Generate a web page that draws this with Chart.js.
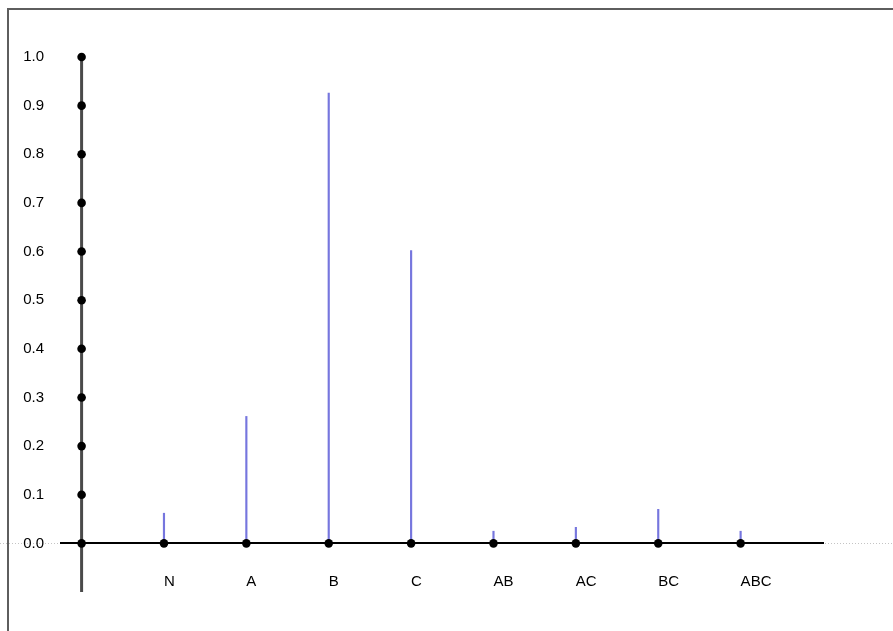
<!DOCTYPE html>
<html><head><meta charset="utf-8">
<script src="https://cdn.jsdelivr.net/npm/chart.js@4"></script>
<style>
html,body{margin:0;padding:0;background:#fff;}
#wrap{position:relative;width:893px;height:631px;overflow:hidden;}
#frame{position:absolute;left:7px;top:8px;width:900px;height:640px;border-left:2px solid #5e5e5e;border-top:2px solid #5e5e5e;pointer-events:none;}
canvas{position:absolute;left:0;top:0;}
</style>
</head><body>
<div id="wrap"><canvas id="c" width="893" height="631"></canvas><div id="frame"></div></div>
<script>
// ---- data ----
const categories = ['N', 'A', 'B', 'C', 'AB', 'AC', 'BC', 'ABC'];
const categoryPositions = [1, 2, 3, 4, 5, 6, 7, 8];
const values = [0.062, 0.261, 0.926, 0.602, 0.025, 0.033, 0.070, 0.025];
const yTickValues = [0.0, 0.1, 0.2, 0.3, 0.4, 0.5, 0.6, 0.7, 0.8, 0.9, 1.0];
const yAxisExtent = [-0.1, 1.0];
const xRange = [-0.25, 9];

const stemData = categoryPositions.map((x, i) => ({x: x, y: values[i]}));
const baseDots = categoryPositions.map(x => ({x: x, y: 0}));
const axisDots = yTickValues.map(v => ({x: 0, y: v}));
const axisLine = yAxisExtent.map(v => ({x: 0, y: v}));

const baselinePlugin = {
  id: 'baseline',
  beforeDraw(chart) {
    const y = Math.round(chart.scales.y.getPixelForValue(0)) + 0.5;
    const ctx = chart.ctx;
    ctx.save();
    ctx.strokeStyle = '#c4c4c4';
    ctx.lineWidth = 1;
    ctx.setLineDash([1, 2]);
    ctx.beginPath();
    ctx.moveTo(0, y);
    ctx.lineTo(chart.width, y);
    ctx.stroke();
    ctx.restore();
  }
};

const font = {family: "'Liberation Sans', Arial, Helvetica, sans-serif", size: 15};

new Chart(document.getElementById('c'), {
  type: 'bar',
  data: {
    datasets: [
      {type: 'scatter', data: axisDots, pointRadius: 4.3, pointBackgroundColor: '#000', pointBorderColor: '#000', pointBorderWidth: 0, clip: false, order: 0},
      {type: 'scatter', data: baseDots, pointRadius: 4.3, pointBackgroundColor: '#000', pointBorderColor: '#000', pointBorderWidth: 0, clip: false, order: 0},
      {type: 'bar', data: stemData, barThickness: 1.5, backgroundColor: '#7676de', borderWidth: 0, order: 1},
      {type: 'line', data: axisLine, borderColor: '#4a4a4a', borderWidth: 3, pointRadius: 0, clip: false, order: 2}
    ]
  },
  options: {
    responsive: false,
    devicePixelRatio: 1,
    animation: false,
    layout: {padding: {left: 0, right: 70, top: 57, bottom: 39}},
    plugins: {legend: {display: false}, tooltip: {enabled: false}},
    scales: {
      x: {
        type: 'linear',
        min: xRange[0], max: xRange[1],
        offset: false,
        position: {y: 0},
        grid: {display: false, drawTicks: false},
        border: {display: true, color: '#000', width: 2},
        afterBuildTicks: s => { s.ticks = categoryPositions.map(v => ({value: v})); },
        afterFit: s => { s.height = 0; },
        ticks: {
          autoSkip: false, maxRotation: 0, minRotation: 0,
          align: 'start', padding: 29, color: '#000', font: font,
          callback: v => categories[categoryPositions.indexOf(v)]
        }
      },
      y: {
        type: 'linear',
        min: yAxisExtent[0], max: yAxisExtent[1],
        grid: {display: false, drawTicks: false},
        border: {display: false},
        afterBuildTicks: s => { s.ticks = yTickValues.map(v => ({value: v})); },
        afterFit: s => { s.width = 61; },
        ticks: {padding: 17, color: '#000', font: font, callback: v => Number(v).toFixed(1)}
      }
    }
  },
  plugins: [baselinePlugin]
});
</script>
</body></html>
